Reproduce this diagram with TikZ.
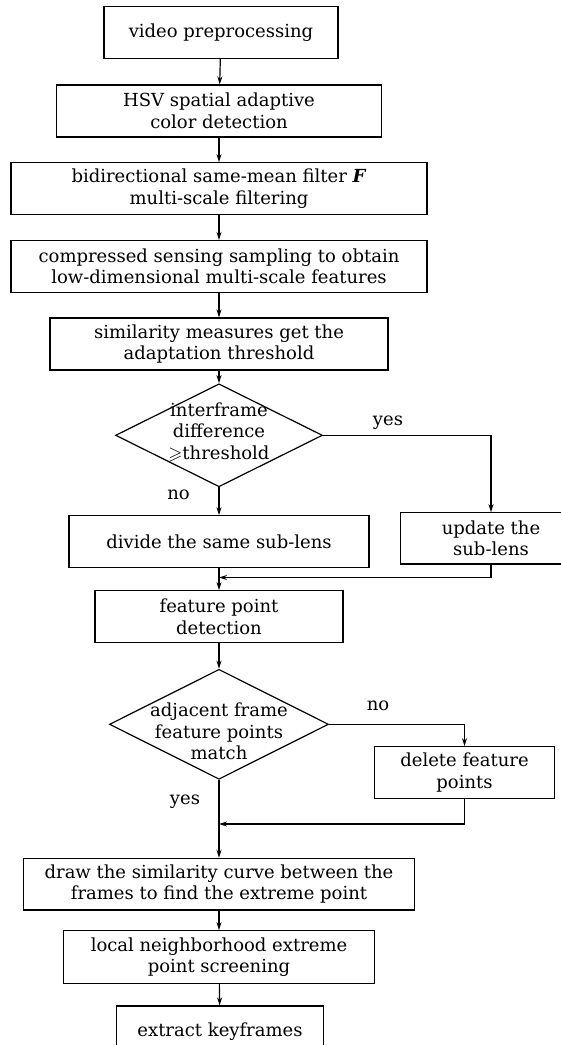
\documentclass[tikz,border=0pt]{standalone}
\usepackage{amssymb}
\usepackage{fontspec}
\setmainfont{DejaVu Serif}
\usetikzlibrary{shapes.geometric,arrows.meta}

\begin{document}
\begin{tikzpicture}
    [x=1pt,y=-1pt,
    box/.style={rectangle,draw=black,line width=1.2pt,align=center,inner sep=0pt,
        font=\fontsize{18}{21.5}\selectfont},
    dec/.style={diamond,draw=black,line width=1.2pt,inner sep=0pt},
    txt/.style={align=center,inner sep=0pt,font=\fontsize{18}{21.5}\selectfont},
    arrow/.style={-{Stealth[length=8pt,width=5pt]},line width=1.2pt},
    ]
    \clip (0,0) rectangle (561,1045);
    % main column
    \node[box,minimum width=234pt,minimum height=52pt] (pre) at (221,32.5) {video preprocessing};
    \node[box,minimum width=325pt,minimum height=52pt] (hsv) at (219,111) {HSV spatial adaptive\\color detection};
    \node[box,minimum width=416pt,minimum height=52pt] (bid) at (219,188.7) {bidirectional same-mean filter \textbf{\textit{F}}\\multi-scale filtering};
    \node[box,minimum width=416pt,minimum height=52pt] (cs) at (219,266.5) {compressed sensing sampling to obtain\\low-dimensional multi-scale features};
    \node[box,minimum width=338pt,minimum height=52pt] (sim) at (219,344) {similarity measures get the\\adaptation threshold};
    \node[dec,minimum width=207pt,minimum height=103pt,
        label={[txt,yshift=3pt]center:{interframe\\difference\\$\geqslant$threshold}}] (dif) at (219,435.3) {};
    \node[box,minimum width=300pt,minimum height=52pt] (div) at (219,541.7) {divide the same sub-lens};
    \node[box,minimum width=181pt,minimum height=51.3pt] (upd) at (491,538.4) {update the\\sub-lens};
    \node[box,minimum width=248pt,minimum height=52pt] (fpd) at (219,616.7) {feature point\\detection};
    \node[dec,minimum width=219pt,minimum height=110pt,
        label={[txt,yshift=-7pt]center:{adjacent frame\\feature points\\match}}] (mat) at (219,724.3) {};
    \node[box,minimum width=180pt,minimum height=51.6pt] (del) at (464.5,772.5) {delete feature\\points};
    \node[box,minimum width=391pt,minimum height=51.7pt] (crv) at (219,884.2) {draw the similarity curve between the\\frames to find the extreme point};
    \node[box,minimum width=311.6pt,minimum height=52.6pt] (loc) at (219,957) {local neighborhood extreme\\point screening};
    \node[box,minimum width=207pt,minimum height=52pt] (key) at (220,1032) {extract keyframes};
    % branch labels
    \node[txt] (yes1) at (388,423) {yes};
    \node[txt] (no1) at (178.5,495) {no};
    \node[txt] (no2) at (378,706) {no};
    \node[txt] (yes2) at (185,802) {yes};
    \coordinate (m1) at (219,577.5);
    \coordinate (m2) at (219,824);
    % connectors
    \draw[arrow] (pre) -- (hsv);
    \draw[arrow] (hsv) -- (bid);
    \draw[arrow] (bid) -- (cs);
    \draw[arrow] (cs) -- (sim);
    \draw[arrow] (sim) -- (dif);
    \draw[arrow] (dif.east) -| (upd.north);
    \draw[arrow] (dif.south) -- (div.north);
    \draw[arrow] (upd.south) |- (m1);
    \draw[arrow] (div) -- (fpd);
    \draw[arrow] (fpd) -- (mat);
    \draw[arrow] (mat.east) -| (del.north);
    \draw[arrow] (mat.south) -- (crv.north);
    \draw[arrow] (del.south) |- (m2);
    \draw[arrow] (crv) -- (loc);
    \draw[arrow] (loc) -- (key);
\end{tikzpicture}
\end{document}
